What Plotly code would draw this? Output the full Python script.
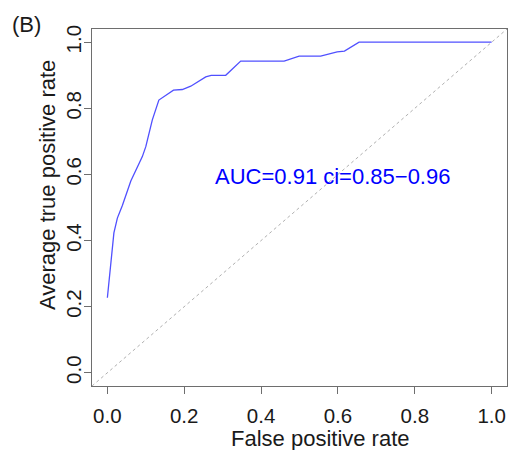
import plotly.graph_objects as go

# ROC curve values
fpr = [0.0, 0.017, 0.026, 0.039, 0.061, 0.091, 0.10, 0.117, 0.134, 0.172, 0.195,
       0.217, 0.256, 0.27, 0.308, 0.347, 0.46, 0.499, 0.555, 0.598, 0.617, 0.655, 1.0]
tpr = [0.227, 0.423, 0.468, 0.506, 0.58, 0.654, 0.684, 0.765, 0.825, 0.855, 0.857,
       0.867, 0.895, 0.90, 0.90, 0.943, 0.943, 0.958, 0.958, 0.971, 0.973, 1.0, 1.0]
diag = [-0.04, 1.04]
tick_vals = [0.0, 0.2, 0.4, 0.6, 0.8, 1.0]
tick_text = ["0.0", "0.2", "0.4", "0.6", "0.8", "1.0"]
auc_label = "AUC=0.91 ci=0.85\u22120.96"
auc_pos = (0.585, 0.594)

FONT = "Liberation Sans, Arial, sans-serif"
GREY = "#6e6e6e"

fig = go.Figure()
fig.add_trace(go.Scatter(x=diag, y=diag, mode="lines",
                         line=dict(color="#b0b0b0", width=1, dash="dot"),
                         hoverinfo="skip", showlegend=False))
fig.add_trace(go.Scatter(x=fpr, y=tpr, mode="lines",
                         line=dict(color="#5050ff", width=1.3),
                         showlegend=False))

axis_common = dict(range=[-0.04, 1.04], tickvals=tick_vals, ticktext=tick_text,
                   ticks="outside", ticklen=7, tickcolor=GREY, tickwidth=1,
                   showline=True, linecolor=GREY, linewidth=1, mirror=True,
                   showgrid=False, zeroline=False,
                   tickfont=dict(family=FONT, size=20.5, color="#1a1a1a"))

fig.update_layout(
    width=511, height=450,
    margin=dict(l=92, r=4, t=29, b=64),
    paper_bgcolor="white", plot_bgcolor="white",
    xaxis=dict(**axis_common, ticklabelposition="outside", ticklabelstandoff=4),
    yaxis=dict(**axis_common, tickangle=-90, ticklabelposition="outside",
               ticklabelstandoff=-5),
    annotations=[
        dict(text=auc_label, x=auc_pos[0], y=auc_pos[1], xref="x", yref="y",
             showarrow=False, font=dict(family=FONT, size=22, color="#0000ff"),
             xanchor="center", yanchor="middle"),
        dict(text="False positive rate", x=(320 - 92) / 415, y=(386 - 439) / 357,
             xref="paper", yref="paper", showarrow=False,
             font=dict(family=FONT, size=22, color="#1a1a1a"),
             xanchor="center", yanchor="middle"),
        dict(text="Average true positive rate", x=(47 - 92) / 415, y=(386 - 185) / 357,
             xref="paper", yref="paper", showarrow=False, textangle=-90,
             font=dict(family=FONT, size=22, color="#1a1a1a"),
             xanchor="center", yanchor="middle"),
        dict(text="(B)", x=(26 - 92) / 415, y=(386 - 24) / 357,
             xref="paper", yref="paper", showarrow=False,
             font=dict(family=FONT, size=22, color="#1a1a1a"),
             xanchor="center", yanchor="middle"),
    ],
)

fig.write_html("out.html", config={"displayModeBar": False},
               post_script="document.body.style.margin='0';document.body.style.overflow='hidden';")
